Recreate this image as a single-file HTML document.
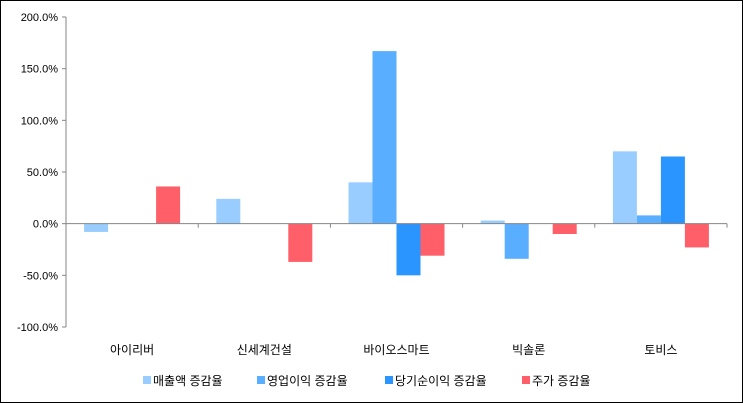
<!DOCTYPE html>
<html><head><meta charset="utf-8"><style>
body{margin:0;background:#fff}
svg{display:block;font-family:"Liberation Sans","Noto Sans CJK KR",sans-serif}
</style></head><body>
<svg id="c" width="743" height="403">
<rect x="0.5" y="0.5" width="742" height="402" fill="#fff" stroke="#000"/>
</svg>
<script>
const categories=["아이리버","신세계건설","바이오스마트","빅솔론","토비스"];
const seriesNames=["매출액 증감율","영업이익 증감율","당기순이익 증감율","주가 증감율"];
const sales=[-8,24,40,3,70];
const opProfit=[0,0,167,-34,8];
const netProfit=[0,0,-50,0,65];
const stock=[36,-37,-31,-10,-23];
const yTicks=[200,150,100,50,0,-50,-100];
const series=[sales,opProfit,netProfit,stock];
const colors=["#99ccff","#5aaeff","#2b95ff","#ff5f69"];
const svg=document.getElementById('c');
const NS="http://www.w3.org/2000/svg";
const x0=66,x1=727,yTop=17,yBot=327;
const y=v=>yTop+(200-v)/300*(yBot-yTop);
const bw=(x1-x0)/categories.length;
function mk(t,a){const e=document.createElementNS(NS,t);for(const k in a)e.setAttribute(k,a[k]);svg.appendChild(e);return e;}
// bars
series.forEach((s,si)=>{s.forEach((v,ci)=>{
 const cx=x0+bw*(ci+0.5);const bx=cx-48+si*24;
 const r=mk('rect',{x:bx,y:Math.min(y(v),y(0)),width:24,height:Math.abs(y(v)-y(0)),fill:colors[si]});
 
 
});});
// y axis
const ya=mk('line',{x1:x0,y1:yTop,x2:x0,y2:yBot,stroke:'#868686'});


yTicks.forEach(t=>{
 const l=mk('line',{x1:x0-4,y1:y(t),x2:x0,y2:y(t),stroke:'#868686'});
 
 
 const tx=mk('text',{x:x0-8,y:y(t)+4,'text-anchor':'end','font-size':'11',fill:'#000'});
 tx.textContent=t.toFixed(1)+'%';
 
 
});
// x axis
const xa=mk('line',{x1:x0,y1:y(0),x2:x1,y2:y(0),stroke:'#868686'});


for(let i=0;i<=categories.length;i++){
 const l=mk('line',{x1:x0+bw*i,y1:y(0),x2:x0+bw*i,y2:y(0)+4,stroke:'#868686'});
 
 
}
categories.forEach((c,i)=>{
 const t=mk('text',{x:x0+bw*(i+0.5),y:354,'text-anchor':'middle','font-size':'12',fill:'#000'});
 t.textContent=c;
 
 
});
// legend
const lx=[143,257,385,522];
seriesNames.forEach((n,i)=>{
 const r=mk('rect',{x:lx[i],y:376,width:8,height:8,fill:colors[i]});
 
 
 const t=mk('text',{x:lx[i]+10,y:385,'font-size':'12',fill:'#000'});
 t.textContent=n;
 
 
});
</script>
</body></html>
